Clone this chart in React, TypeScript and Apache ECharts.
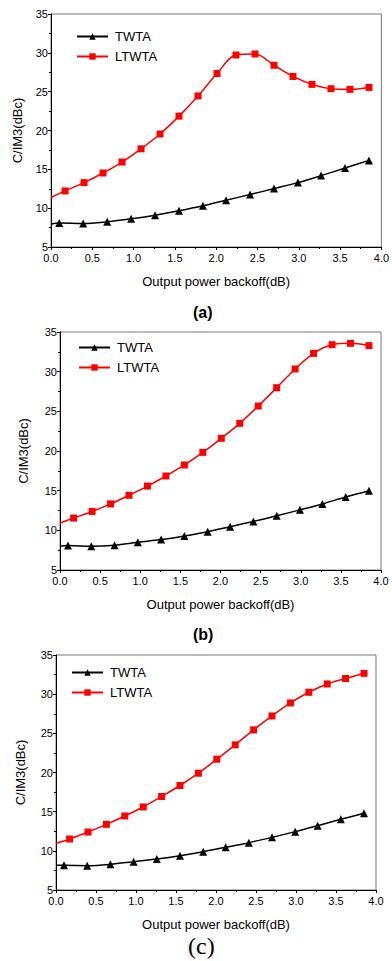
import React, { useEffect, useRef } from "react";
import * as echarts from "echarts";

// x positions (dB) – first point at 0 is the curve start without marker
const TWTA_X = [0, 0.1, 0.39, 0.68, 0.97, 1.26, 1.55, 1.84, 2.12, 2.41, 2.7, 2.99, 3.27, 3.56, 3.85];
const LTWTA_X = [0, 0.17, 0.4, 0.63, 0.86, 1.09, 1.32, 1.55, 1.78, 2.01, 2.24, 2.47, 2.7, 2.93, 3.16, 3.39, 3.62, 3.85];

const A_TWTA = [7.95, 8.08, 8.03, 8.25, 8.63, 9.1, 9.66, 10.3, 11.03, 11.75, 12.52, 13.29, 14.19, 15.17, 16.15];
const A_LTWTA = [11.37, 12.22, 13.29, 14.53, 15.94, 17.64, 19.55, 21.85, 24.45, 27.34, 29.72, 29.85, 28.4, 26.96, 25.94, 25.38, 25.3, 25.55];

const B_TWTA = [8.0, 8.08, 8.0, 8.12, 8.5, 8.83, 9.29, 9.83, 10.46, 11.12, 11.83, 12.58, 13.33, 14.21, 15.0];
const B_LTWTA = [10.92, 11.54, 12.38, 13.33, 14.42, 15.58, 16.85, 18.24, 19.83, 21.6, 23.49, 25.67, 27.98, 30.34, 32.31, 33.4, 33.57, 33.28];

const C_TWTA = [8.15, 8.15, 8.11, 8.28, 8.62, 8.96, 9.38, 9.89, 10.45, 11.04, 11.72, 12.45, 13.21, 14.02, 14.79];
const C_LTWTA = [10.96, 11.51, 12.4, 13.38, 14.45, 15.6, 16.94, 18.34, 19.91, 21.7, 23.53, 25.44, 27.22, 28.88, 30.24, 31.3, 32.0, 32.66];

const SERIES_NAMES = ["TWTA", "LTWTA"];
const PANEL_LABELS = ["(a)", "(b)", "(c)"];
const X_TITLE = "Output power backoff(dB)";
const Y_TITLE = "C/IM3(dBc)";

const FONT = "Liberation Sans, Arial, sans-serif";

export default function App() {
  const ref = useRef<HTMLDivElement>(null);
  useEffect(() => {
    document.body.style.margin = "0";
    if (!ref.current) return;
    const chart = echarts.init(ref.current, undefined, { renderer: "svg" });

    const grids = [
      { left: 51, top: 14, width: 331.5, height: 233 },
      { left: 60, top: 332, width: 321, height: 238 },
      { left: 56, top: 655, width: 320, height: 235 },
    ];
    const legendPos = [
      { left: 71, top: 25 },
      { left: 73, top: 336 },
      { left: 66, top: 661 },
    ];
    const yNameGap = [27, 30, 29];
    const labelY = [313, 635, 948];

    const mk = (xs: number[], ys: number[]) =>
      xs.map((x, i) => (i === 0 ? { value: [x, ys[i]], symbol: "none" } : { value: [x, ys[i]] }));

    const panels = [
      [A_TWTA, A_LTWTA],
      [B_TWTA, B_LTWTA],
      [C_TWTA, C_LTWTA],
    ];

    const series: any[] = [];
    panels.forEach((p, gi) => {
      series.push({
        type: "line",
        name: SERIES_NAMES[0],
        xAxisIndex: gi,
        yAxisIndex: gi,
        data: mk(TWTA_X, p[0]),
        smooth: 0.35,
        symbol: "triangle",
        symbolSize: 8,
        lineStyle: { color: "#000", width: 1.5 },
        itemStyle: { color: "#000" },
        z: 3,
      });
      series.push({
        type: "line",
        name: SERIES_NAMES[1],
        xAxisIndex: gi,
        yAxisIndex: gi,
        data: mk(LTWTA_X, p[1]),
        smooth: 0.35,
        symbol: "rect",
        symbolSize: 7,
        lineStyle: { color: "#ff0000", width: 1.5 },
        itemStyle: { color: "#ff0000" },
        z: 3,
      });
    });

    const option: any = {
      animation: false,
      grid: grids.map((g) => ({ ...g, show: true, borderColor: "#777", borderWidth: 1, containLabel: false })),
      legend: legendPos.map((lp) => ({
        ...lp,
        orient: "vertical",
        itemWidth: 31,
        itemHeight: 8,
        itemGap: 7,
        data: SERIES_NAMES,
        textStyle: { fontFamily: FONT, fontSize: 13, color: "#000", padding: [0, 0, 0, 2] },
        selectedMode: false,
      })),
      xAxis: grids.map((_, gi) => ({
        type: "value",
        gridIndex: gi,
        min: 0,
        max: 4,
        interval: 0.5,
        name: X_TITLE,
        nameLocation: "middle",
        nameGap: 28,
        nameTextStyle: { fontFamily: FONT, fontSize: 13, color: "#000" },
        axisLine: { show: true, onZero: false, lineStyle: { color: "#000", width: 1 } },
        axisTick: { show: true, inside: false, length: 3, lineStyle: { color: "#000" } },
        minorTick: { show: true, splitNumber: 2, length: 2, lineStyle: { color: "#000" } },
        splitLine: { show: false },
        axisLabel: {
          fontFamily: FONT,
          fontSize: 11,
          color: "#000",
          margin: 5,
          formatter: (v: number) => v.toFixed(1),
        },
      })),
      yAxis: grids.map((_, gi) => ({
        type: "value",
        gridIndex: gi,
        min: 5,
        max: 35,
        interval: 5,
        name: Y_TITLE,
        nameLocation: "middle",
        nameGap: yNameGap[gi],
        nameRotate: 90,
        nameTextStyle: { fontFamily: FONT, fontSize: 13, color: "#000" },
        axisLine: { show: true, onZero: false, lineStyle: { color: "#000", width: 1 } },
        axisTick: { show: true, inside: false, length: 3, lineStyle: { color: "#000" } },
        minorTick: { show: true, splitNumber: 2, length: 2, lineStyle: { color: "#000" } },
        splitLine: { show: false },
        axisLabel: { fontFamily: FONT, fontSize: 11, color: "#000", margin: 3 },
      })),
      graphic: [
        {
          type: "text",
          left: 203 - 10,
          top: labelY[0] - 9,
          style: { text: PANEL_LABELS[0], font: `bold 16px ${FONT}`, fill: "#000" },
        },
        {
          type: "text",
          left: 203 - 10,
          top: labelY[1] - 9,
          style: { text: PANEL_LABELS[1], font: `bold 16px ${FONT}`, fill: "#000" },
        },
        {
          type: "text",
          left: 203 - 15,
          top: labelY[2] - 14,
          style: { text: PANEL_LABELS[2], font: `24px Liberation Serif, Times New Roman, serif`, fill: "#000" },
        },
      ],
      series,
    };
    chart.setOption(option);
    return () => chart.dispose();
  }, []);
  return <div ref={ref} style={{ width: 392, height: 961, background: "#fff" }} />;
}
